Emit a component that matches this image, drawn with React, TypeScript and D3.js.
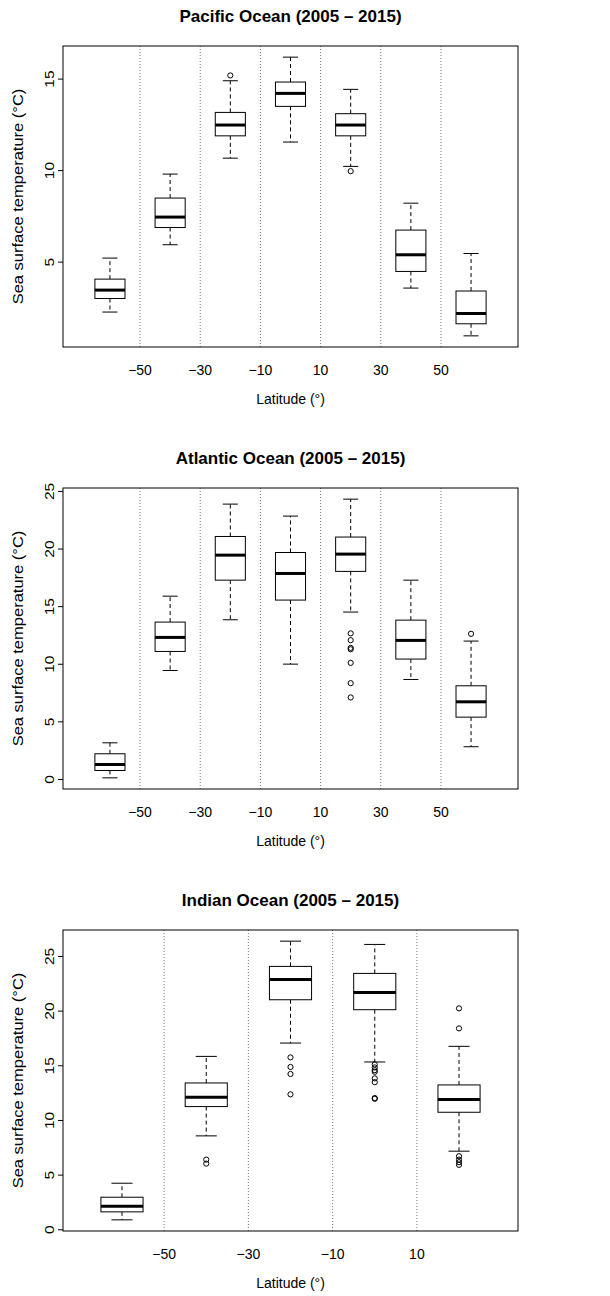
import React, { useEffect, useRef } from 'react';
import * as d3 from 'd3';

// five-number summaries per latitude band: [lower whisker, Q1, median, Q3, upper whisker]
const pacificBoxes = [
  [2.27, 3.01, 3.47, 4.07, 5.22],
  [5.95, 6.89, 7.46, 8.5, 9.81],
  [10.68, 11.9, 12.49, 13.18, 14.91],
  [11.56, 13.51, 14.22, 14.84, 16.2],
  [10.23, 11.9, 12.49, 13.11, 14.44],
  [3.58, 4.49, 5.4, 6.75, 8.22],
  [0.97, 1.63, 2.19, 3.42, 5.47],
];
const pacificOutliers = [[], [], [15.2], [], [9.97], [], []];

const atlanticBoxes = [
  [0.14, 0.78, 1.3, 2.23, 3.18],
  [9.46, 11.11, 12.33, 13.66, 15.91],
  [13.86, 17.3, 19.47, 21.09, 23.9],
  [10.01, 15.57, 17.88, 19.7, 22.86],
  [14.53, 18.06, 19.56, 21.04, 24.33],
  [8.68, 10.45, 12.07, 13.83, 17.3],
  [2.84, 5.41, 6.74, 8.13, 12.01],
];
const atlanticOutliers = [
  [],
  [],
  [],
  [],
  [12.68, 12.09, 11.42, 11.3, 10.12, 8.36, 7.12],
  [],
  [12.64],
];

const indianBoxes = [
  [0.91, 1.64, 2.16, 2.98, 4.26],
  [8.59, 11.27, 12.12, 13.43, 15.86],
  [17.08, 21.04, 22.9, 24.09, 26.4],
  [15.35, 20.13, 21.71, 23.45, 26.1],
  [7.19, 10.75, 11.91, 13.25, 16.78],
];
const indianOutliers = [
  [],
  [6.42, 6.05],
  [15.77, 14.89, 14.25, 12.39],
  [15.12, 14.85, 14.6, 14.45, 13.85, 13.5, 12.05, 11.98],
  [20.25, 18.42, 6.73, 6.42, 6.18, 5.94],
];

const sevenBandTicks = ['−50', '−30', '−10', '10', '30', '50'];
const fiveBandTicks = ['−50', '−30', '−10', '10'];

const panels = [
  { title: 'Pacific Ocean (2005 – 2015)', boxes: pacificBoxes, outliers: pacificOutliers, ticks: sevenBandTicks, top: 46 },
  { title: 'Atlantic Ocean (2005 – 2015)', boxes: atlanticBoxes, outliers: atlanticOutliers, ticks: sevenBandTicks, top: 488 },
  { title: 'Indian Ocean (2005 – 2015)', boxes: indianBoxes, outliers: indianOutliers, ticks: fiveBandTicks, top: 930 },
];

const FONT = "'Liberation Sans', Arial, Helvetica, sans-serif";

export default function App() {
  const svgRef = useRef<SVGSVGElement>(null);

  useEffect(() => {
    if (!svgRef.current) return;
    const svg = d3.select(svgRef.current);
    svg.selectAll('*').remove();

    const left = 63;
    const right = 518;
    const plotH = 301;

    panels.forEach((p) => {
      const n = p.boxes.length;
      const g = svg.append('g').attr('transform', `translate(0,${p.top})`);

      const x = d3
        .scaleLinear()
        .domain([0.5 - 0.04 * n, n + 0.5 + 0.04 * n])
        .range([left, right]);

      const all = p.boxes.flat().concat(p.outliers.flat());
      const lo = d3.min(all) as number;
      const hi = d3.max(all) as number;
      const pad = (hi - lo) * 0.04;
      const y = d3.scaleLinear().domain([lo - pad, hi + pad]).range([plotH, 0]);

      // dotted separators between bands
      d3.range(1, n).forEach((i) => {
        g.append('line')
          .attr('x1', x(i + 0.5))
          .attr('x2', x(i + 0.5))
          .attr('y1', 0)
          .attr('y2', plotH)
          .attr('stroke', '#777')
          .attr('stroke-width', 1)
          .attr('stroke-dasharray', '1,2');
      });

      const bw = x(1.25) - x(1);
      const cap = x(1.125) - x(1);

      p.boxes.forEach((b, i) => {
        const cx = x(i + 1);
        const [wl, q1, med, q3, wh] = b;
        // whiskers
        g.append('line')
          .attr('x1', cx).attr('x2', cx)
          .attr('y1', y(q3)).attr('y2', y(wh))
          .attr('stroke', '#000').attr('stroke-dasharray', '4,3');
        g.append('line')
          .attr('x1', cx).attr('x2', cx)
          .attr('y1', y(q1)).attr('y2', y(wl))
          .attr('stroke', '#000').attr('stroke-dasharray', '4,3');
        [wl, wh].forEach((v) => {
          g.append('line')
            .attr('x1', cx - cap).attr('x2', cx + cap)
            .attr('y1', y(v)).attr('y2', y(v))
            .attr('stroke', '#000');
        });
        g.append('rect')
          .attr('x', cx - bw)
          .attr('y', y(q3))
          .attr('width', bw * 2)
          .attr('height', y(q1) - y(q3))
          .attr('fill', '#fff')
          .attr('stroke', '#000');
        g.append('line')
          .attr('x1', cx - bw).attr('x2', cx + bw)
          .attr('y1', y(med)).attr('y2', y(med))
          .attr('stroke', '#000').attr('stroke-width', 3);

        p.outliers[i].forEach((v) => {
          g.append('circle')
            .attr('cx', cx)
            .attr('cy', y(v))
            .attr('r', 2.6)
            .attr('fill', 'none')
            .attr('stroke', '#000');
        });
      });

      // frame
      g.append('rect')
        .attr('x', left)
        .attr('y', 0)
        .attr('width', right - left)
        .attr('height', plotH)
        .attr('fill', 'none')
        .attr('stroke', '#000');

      // y axis
      y.ticks(5).forEach((t) => {
        g.append('line')
          .attr('x1', left - 5).attr('x2', left)
          .attr('y1', y(t)).attr('y2', y(t))
          .attr('stroke', '#000');
        g.append('text')
          .attr('transform', `translate(${left - 14},${y(t)}) rotate(-90) scale(1.15,1)`)
          .attr('text-anchor', 'middle')
          .attr('dy', '0.35em')
          .style('font-family', FONT)
          .style('font-size', '13.5px')
          .text(String(t));
      });

      // x tick labels at band boundaries
      p.ticks.forEach((t, i) => {
        g.append('text')
          .attr('x', x(i + 1.5))
          .attr('y', plotH + 23)
          .attr('dy', '0.35em')
          .attr('text-anchor', 'middle')
          .style('font-family', FONT)
          .style('font-size', '14px')
          .text(t);
      });

      g.append('text')
        .attr('x', (left + right) / 2)
        .attr('y', plotH + 52)
        .attr('dy', '0.35em')
        .attr('text-anchor', 'middle')
        .style('font-family', FONT)
        .style('font-size', '14px')
        .text('Latitude (°)');

      g.append('text')
        .attr('transform', `translate(18,${plotH / 2}) rotate(-90) scale(1.18,1)`)
        .attr('text-anchor', 'middle')
        .attr('dy', '0.35em')
        .style('font-family', FONT)
        .style('font-size', '14px')
        .text('Sea surface temperature (°C)');

      g.append('text')
        .attr('x', (left + right) / 2)
        .attr('y', -30)
        .attr('dy', '0.35em')
        .attr('text-anchor', 'middle')
        .style('font-family', FONT)
        .style('font-size', '17px')
        .style('font-weight', 'bold')
        .text(p.title);
    });
  }, []);

  return (
    <svg
      ref={svgRef}
      width={610}
      height={1296}
      style={{ position: 'absolute', left: 0, top: 0, background: '#fff' }}
    ></svg>
  );
}
